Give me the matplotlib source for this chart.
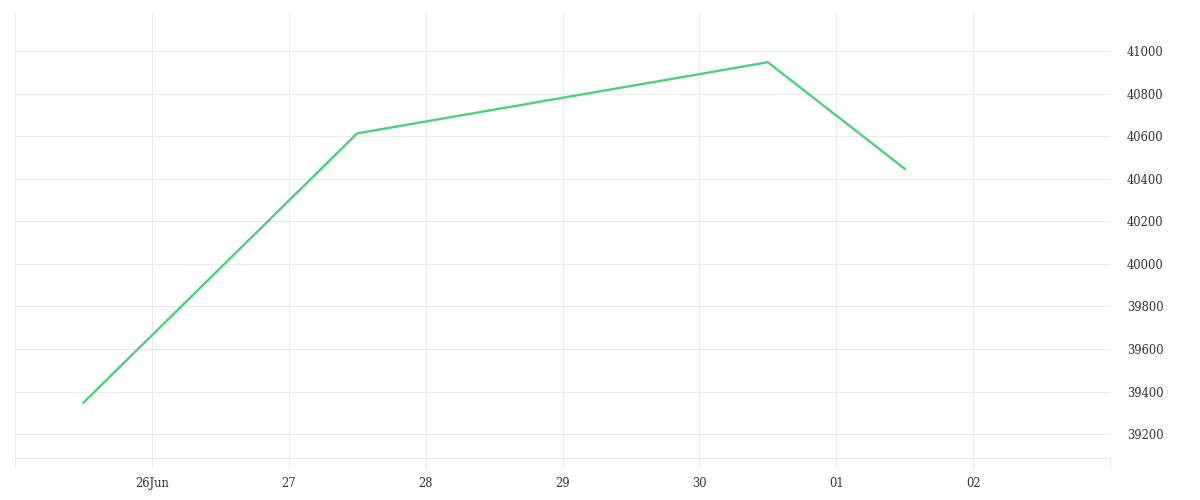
import matplotlib
matplotlib.use("Agg")
import matplotlib.pyplot as plt
import matplotlib.dates as mdates
import numpy as np
import datetime as dt

# Data
dates = ["2020-06-25 12:00", "2020-06-27 12:00", "2020-06-30 12:00", "2020-07-01 12:00"]
values = [39348, 40613, 40947, 40447]
tick_days = ["2020-06-25", "2020-06-26", "2020-06-27", "2020-06-28", "2020-06-29",
             "2020-06-30", "2020-07-01", "2020-07-02", "2020-07-03"]
tick_labels = ["", "26Jun", "27", "28", "29", "30", "01", "02", ""]
y_ticks = [39200, 39400, 39600, 39800, 40000, 40200, 40400, 40600, 40800, 41000]

plt.rcParams['font.family'] = ['DejaVu Serif']

x = [dt.datetime.strptime(d, "%Y-%m-%d %H:%M") for d in dates]
xt = [dt.datetime.strptime(d, "%Y-%m-%d") for d in tick_days]

fig = plt.figure(figsize=(12, 5), dpi=100)
ax = fig.add_axes([0.0125, 0.0834, 0.925 - 0.0125, 0.976 - 0.0834])

grid_c = "#ebebeb"
ax.plot(x, values, color="#4cd07d", linewidth=1.7, solid_joinstyle="miter", zorder=3)

ax.set_xlim(xt[0], xt[-1])
ax.set_ylim(39087, 41183)

ax.set_xticks(xt)
ax.set_xticklabels(tick_labels)
ax.set_yticks(y_ticks)
ax.set_yticklabels([str(v) for v in y_ticks])

ax.yaxis.tick_right()
ax.grid(True, color=grid_c, linewidth=0.75, zorder=0)
ax.set_axisbelow(True)
for s in ["top", "left", "right"]:
    ax.spines[s].set_visible(False)
ax.spines["bottom"].set_color(grid_c)
ax.spines["bottom"].set_linewidth(0.75)

ax.tick_params(axis="x", length=7.2, width=0.75, color=grid_c, pad=6,
               labelsize=8.3, labelcolor="#333333")
ax.tick_params(axis="y", length=0, pad=12, labelsize=8.3, labelcolor="#333333")
for lab in ax.get_yticklabels():
    lab.set_horizontalalignment("left")

fig.savefig("out.png", dpi=100, facecolor="white")
